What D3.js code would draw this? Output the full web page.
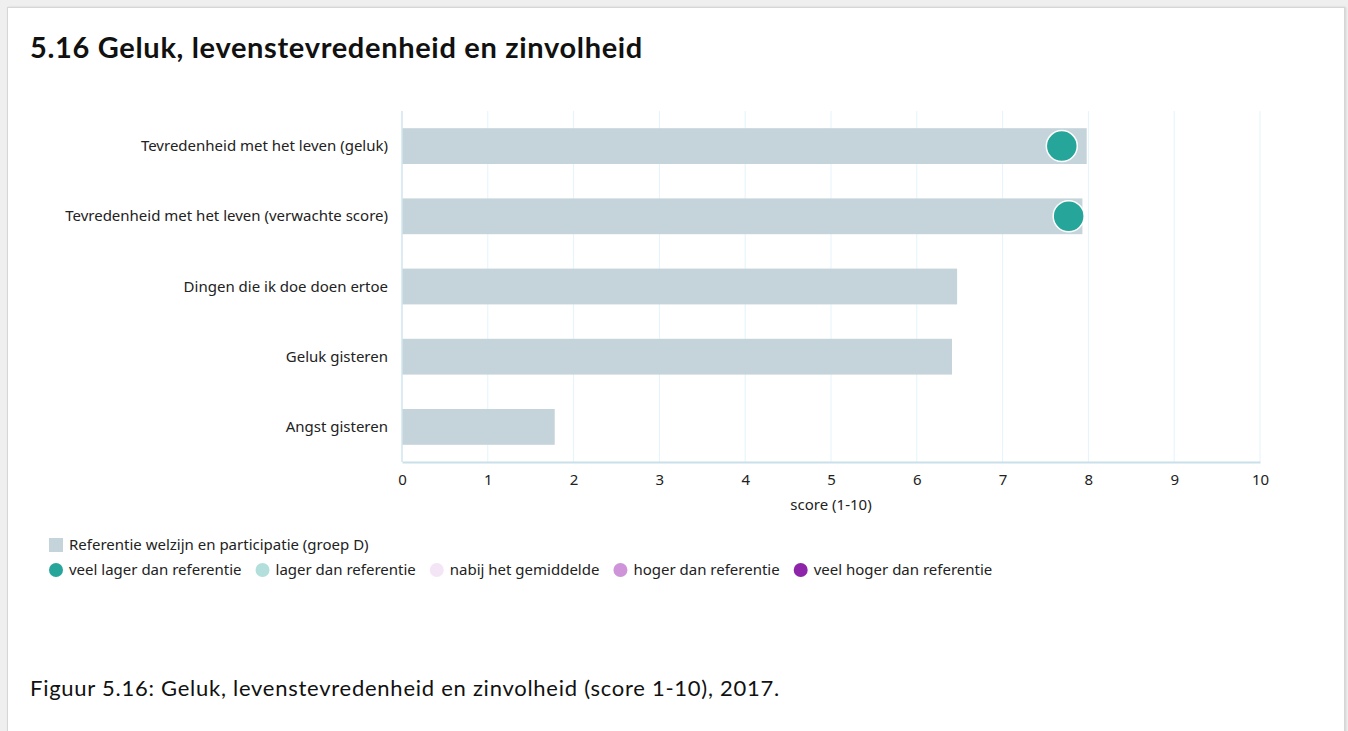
<!DOCTYPE html>
<html>
<head>
<meta charset="utf-8">
<script src="https://cdn.jsdelivr.net/npm/d3@7"></script>
<style>
  html, body { margin: 0; padding: 0; background: #efefef; }
  body { width: 1348px; height: 731px; overflow: hidden; position: relative; }
  #card { position: absolute; left: 7px; top: 7px; width: 1336px; height: 740px; background: #fff; border: 1px solid #d6d6d6; box-shadow: 1px 0 2px rgba(0,0,0,0.12); }
  svg { position: absolute; left: 0; top: 0; }
</style>
</head>
<body>
<div id="card"></div>
<svg id="chart" width="1348" height="731"></svg>
<script>
const categories = [
  "Tevredenheid met het leven (geluk)",
  "Tevredenheid met het leven (verwachte score)",
  "Dingen die ik doe doen ertoe",
  "Geluk gisteren",
  "Angst gisteren"
];
const referenceValues = [7.98, 7.93, 6.47, 6.41, 1.78];
const groupValues = [7.69, 7.77, null, null, null];
const groupClasses = ["veel lager dan referentie", "veel lager dan referentie", null, null, null];
const xTicks = [0, 1, 2, 3, 4, 5, 6, 7, 8, 9, 10];
const legendClasses = ["veel lager dan referentie", "lager dan referentie", "nabij het gemiddelde", "hoger dan referentie", "veel hoger dan referentie"];
const legendColors = ["#26a69a", "#b2dfdb", "#f3e5f5", "#ce93d8", "#8e24aa"];
const referenceLabel = "Referentie welzijn en participatie (groep D)";

const svg = d3.select("#chart");
const labelFont = "'Noto Sans', sans-serif";
const titleFont = "Lato, 'Open Sans', sans-serif";
const fs = 15;

function fitWidth(sel, target) {
  const n = sel.text().length;
  const len = sel.node().getComputedTextLength();
  sel.attr("letter-spacing", ((target - len) / n).toFixed(3));
}

const title = svg.append("text").attr("x", 30).attr("y", 58)
  .attr("font-family", titleFont).attr("font-size", 29).attr("font-weight", 700)
  .attr("fill", "#111").text("5.16 Geluk, levenstevredenheid en zinvolheid");
fitWidth(title, 613);

const x = d3.scaleLinear().domain([0, 10]).range([402, 1260]);
const y = d3.scaleBand().domain(categories).range([111, 462]).paddingInner(0.49).paddingOuter(0.245);

// grid
svg.append("g").selectAll("line").data(xTicks.slice(1)).join("line")
  .attr("x1", d => x(d)).attr("x2", d => x(d)).attr("y1", 111).attr("y2", 462)
  .attr("stroke", "#e3f4fb").attr("stroke-width", 1);

// bars
svg.append("g").selectAll("rect").data(categories).join("rect")
  .attr("x", x(0)).attr("y", d => y(d))
  .attr("width", (d, i) => x(referenceValues[i]) - x(0))
  .attr("height", y.bandwidth())
  .attr("fill", "#c5d4da");

// left axis line
svg.append("line").attr("x1", x(0)).attr("x2", x(0)).attr("y1", 111).attr("y2", 462)
  .attr("stroke", "#cfe6f0").attr("stroke-width", 1.5);

// y labels
svg.append("g").selectAll("text").data(categories).join("text")
  .attr("x", 388).attr("y", d => y(d) + y.bandwidth() / 2 + 5)
  .attr("text-anchor", "end").attr("font-family", labelFont).attr("font-size", fs)
  .attr("fill", "#222").text(d => d);

// x axis
const xAxis = svg.append("g").attr("transform", "translate(0,462)")
  .call(d3.axisBottom(x).tickValues(xTicks).tickSize(0).tickPadding(12).tickFormat(d3.format("d")));
xAxis.select(".domain").attr("stroke", "#c9e0ea").attr("stroke-width", 2);
xAxis.selectAll("text").attr("font-family", labelFont).attr("font-size", fs).attr("fill", "#222");

svg.append("text").attr("x", x(5)).attr("y", 510).attr("text-anchor", "middle")
  .attr("font-family", labelFont).attr("font-size", fs).attr("fill", "#222").text("score (1-10)");

// dots
const colorOf = d3.scaleOrdinal().domain(legendClasses).range(legendColors);
svg.append("g").selectAll("circle")
  .data(categories.map((c, i) => ({c, v: groupValues[i], k: groupClasses[i]})).filter(d => d.v != null))
  .join("circle")
  .attr("cx", d => x(d.v)).attr("cy", d => y(d.c) + y.bandwidth() / 2)
  .attr("r", 15.5).attr("fill", d => colorOf(d.k)).attr("stroke", "#fff").attr("stroke-width", 1.5);

// legend
svg.append("rect").attr("x", 49).attr("y", 538).attr("width", 14).attr("height", 14).attr("fill", "#c5d4da");
svg.append("text").attr("x", 69).attr("y", 550).attr("font-family", labelFont).attr("font-size", fs)
  .attr("fill", "#222").text(referenceLabel);

const lg = svg.append("g");
let lx = 49;
legendClasses.forEach((k, i) => {
  lg.append("circle").attr("cx", lx + 7).attr("cy", 570).attr("r", 7).attr("fill", legendColors[i]);
  const t = lg.append("text").attr("x", lx + 20).attr("y", 575).attr("font-family", labelFont)
    .attr("font-size", fs).attr("fill", "#222").text(k);
  lx += 20 + t.node().getComputedTextLength() + 14;
});

const cap = svg.append("text").attr("x", 30).attr("y", 696)
  .attr("font-family", titleFont).attr("font-size", 22).attr("fill", "#111")
  .text("Figuur 5.16: Geluk, levenstevredenheid en zinvolheid (score 1-10), 2017.");
fitWidth(cap, 750);
</script>
</body>
</html>
